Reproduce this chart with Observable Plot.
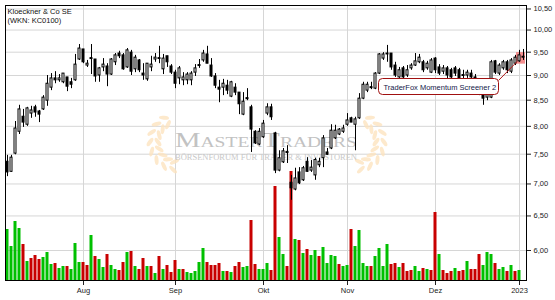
<!DOCTYPE html>
<html><head><meta charset="utf-8">
<script src="https://cdn.jsdelivr.net/npm/d3@7"></script>
<script src="https://cdn.jsdelivr.net/npm/@observablehq/plot@0.6"></script>
<style>
html,body{margin:0;padding:0;background:#fff;}
#chart{position:relative;width:555px;height:300px;overflow:hidden;background:#fff;}
#chart svg{position:absolute;left:0;top:0;}
</style></head><body><div id="chart"></div>
<script>
const title = "Kloeckner & Co SE";
const subtitle = "(WKN: KC0100)";
const firstDay = "2022-07-05", lastDay = "2023-01-03";
const holidays = ["2022-12-26"];
const monthNames = ["Jan","Feb","Mär","Apr","Mai","Jun","Jul","Aug","Sep","Okt","Nov","Dez"];
const priceTicks = [6, 6.5, 7, 7.5, 8, 8.5, 9, 9.5, 10, 10.5];
const priceDomain = [5.597, 10.585];
const volumeDomain = [0, 5500];
const annotationLabel = "TraderFox Momentum Screener 2";
const watermarkSub = "BÖRSENFORUM FÜR TRADER & INVESTOREN";

const open = [7.37,7.20,7.51,7.90,8.18,8.03,8.24,8.36,8.28,8.32,8.49,8.75,8.94,8.90,8.86,8.96,8.86,8.90,9.34,9.56,
9.21,9.37,9.34,9.00,9.17,9.19,9.02,9.28,9.47,9.43,9.17,9.49,9.13,9.32,9.04,8.92,9.17,9.34,9.37,9.13,
9.41,9.19,9.06,8.94,8.90,8.90,8.90,9.06,9.22,9.32,9.45,9.21,8.98,8.75,8.75,8.79,8.57,8.75,8.65,8.22,
8.54,8.36,7.90,7.67,7.80,8.24,8.36,7.87,7.22,7.36,7.54,7.02,6.91,7.19,7.06,7.37,7.22,7.14,7.31,7.43,
7.53,7.60,7.78,7.85,7.90,8.03,8.15,8.03,8.15,8.53,8.69,8.76,8.73,9.04,9.36,9.47,9.47,9.21,8.96,9.15,
9.00,9.15,9.21,9.28,9.28,9.15,9.06,9.36,9.17,9.08,9.15,9.11,9.15,9.11,9.01,9.00,9.04,8.96,8.83,8.69,
8.55,8.55,9.30,9.04,9.15,9.28,9.08,9.25,9.30,9.40];
const high = [7.48,7.48,8.09,8.40,8.32,8.36,8.38,8.40,8.30,8.59,9.00,9.04,9.08,9.02,9.04,8.96,8.94,9.45,9.67,9.56,
9.32,9.67,9.34,9.17,9.36,9.25,9.36,9.47,9.52,9.47,9.58,9.54,9.43,9.34,9.25,9.25,9.41,9.47,9.63,9.45,
9.41,9.23,9.11,9.19,9.06,9.06,9.08,9.23,9.34,9.54,9.63,9.36,9.04,8.90,8.92,8.90,8.88,8.83,8.65,8.65,
8.73,8.40,7.92,7.96,8.11,8.43,8.42,7.89,7.56,7.60,7.65,7.14,7.26,7.27,7.29,7.44,7.39,7.43,7.43,7.83,
7.60,8.03,8.02,7.96,8.02,8.24,8.17,8.17,8.63,8.86,8.86,8.86,9.06,9.47,9.49,9.65,9.47,9.28,9.17,9.19,
9.21,9.25,9.47,9.45,9.32,9.30,9.36,9.38,9.23,9.21,9.19,9.15,9.19,9.15,9.11,9.11,9.11,9.02,8.90,8.73,
8.69,9.32,9.32,9.25,9.32,9.32,9.36,9.43,9.54,9.56];
const low = [7.12,7.19,7.49,7.85,7.98,8.00,8.15,8.17,8.07,8.30,8.38,8.69,8.83,8.86,8.83,8.67,8.73,8.88,9.32,9.25,
9.17,9.02,8.86,8.86,9.08,8.77,9.00,9.21,9.36,9.11,9.15,9.00,9.06,9.06,8.90,8.88,9.08,9.28,9.25,9.02,
9.17,9.02,8.73,8.81,8.79,8.81,8.79,8.98,9.15,9.28,9.25,8.96,8.73,8.45,8.59,8.61,8.55,8.59,8.22,8.20,
8.49,7.53,7.67,7.65,7.78,8.20,8.11,7.17,7.20,7.34,7.34,6.74,6.89,6.99,7.04,7.19,7.19,7.06,7.27,7.27,
7.48,7.58,7.76,7.83,7.87,8.00,8.07,7.56,8.13,8.51,8.65,8.71,8.71,9.02,9.32,9.28,9.11,8.96,8.94,8.92,
8.96,9.11,9.19,9.25,9.06,9.11,9.04,9.04,9.00,9.02,8.90,8.90,8.98,8.83,8.83,8.94,8.90,8.77,8.59,8.40,
8.49,8.53,9.02,9.00,9.11,9.04,9.04,9.21,9.28,9.32];
const close = [7.19,7.44,7.96,8.32,8.07,8.34,8.30,8.26,8.22,8.55,8.83,8.94,8.90,8.94,9.04,8.77,8.81,9.23,9.58,9.28,
9.25,9.35,8.98,9.15,9.23,9.02,9.34,9.43,9.41,9.13,9.54,9.08,9.38,9.11,9.00,9.25,9.23,9.38,9.35,9.36,
9.28,9.06,8.83,9.15,8.96,9.02,9.04,9.15,9.20,9.47,9.25,8.98,8.79,8.71,8.83,8.69,8.86,8.65,8.42,8.47,
8.52,7.94,7.69,7.90,8.05,8.36,8.17,7.22,7.43,7.55,7.52,6.93,7.09,7.01,7.26,7.20,7.27,7.40,7.37,7.78,
7.49,7.92,7.92,7.94,7.96,8.11,8.07,8.13,8.53,8.81,8.81,8.74,9.04,9.45,9.45,9.45,9.17,9.00,9.11,8.96,
9.11,9.21,9.30,9.38,9.11,9.25,9.32,9.11,9.04,9.15,9.00,8.96,9.04,8.90,8.99,9.06,8.96,8.83,8.65,8.53,
8.65,9.28,9.06,9.21,9.28,9.11,9.32,9.38,9.43,9.38];
// volume in thousand shares
const volume = [1020,680,1180,1040,720,380,440,500,420,460,560,320,340,240,280,280,220,740,360,360,
300,900,480,420,260,520,300,220,200,360,560,580,280,220,440,280,280,140,480,220,
300,160,400,220,220,160,140,180,360,640,360,300,300,340,180,180,160,280,360,260,
280,1200,320,220,220,340,200,1880,860,520,280,2180,820,800,540,620,500,600,480,660,
340,500,480,320,280,300,1020,680,1000,340,280,280,480,640,280,720,320,340,260,340,
180,200,280,180,240,220,200,1360,520,200,140,180,240,180,200,380,220,220,520,300,
560,520,340,220,260,180,300,180,200,null];
// volume bar colour: g = up day, r = down day
const volumeDir = ["g","g","g","g","r","g","r","r","r","g","g","g","r","g","g","r","g","g","g","r",
"r","g","r","g","g","r","g","g","r","r","g","r","g","r","r","g","r","g","r","g",
"r","r","r","g","r","g","g","g","g","g","r","r","r","r","g","r","g","r","r","g",
"g","r","r","g","g","g","r","r","g","g","r","r","g","r","g","r","g","g","r","g",
"g","g","g","r","g","g","r","g","g","g","g","r","g","g","g","g","r","r","g","r",
"r","r","g","g","r","g","r","r","g","r","r","r","g","r","r","g","r","r","r","g",
"g","g","r","g","g","r","g","r","g",null];

const parse = d3.utcParse("%Y-%m-%d"), iso = d3.utcFormat("%Y-%m-%d");
const days = d3.utcDays(parse(firstDay), d3.utcDay.offset(parse(lastDay), 1))
  .filter(d => d.getUTCDay() !== 0 && d.getUTCDay() !== 6 && !holidays.includes(iso(d)));
const data = days.map((date, i) => ({i, date, o: open[i], h: high[i], l: low[i], c: close[i], v: volume[i], dir: volumeDir[i]}));
const monthStarts = data.filter((d, i) => i > 0 && d.date.getUTCMonth() !== data[i - 1].date.getUTCMonth()).map(d => d.i);
const monthLabel = i => { const d = days[i]; return d.getUTCMonth() === 0 ? String(d.getUTCFullYear()) : monthNames[d.getUTCMonth()]; };
const lastIdx = data.length - 1;
const signal = {x1: lastIdx - 1.75, x2: lastIdx + 0.5, y1: 9.24, y2: 9.49};

const W = 555, H = 300;
const margins = {marginLeft: 5, marginRight: 29, marginTop: 5, marginBottom: 20};
const xBase = {type: "linear", domain: [-0.5, data.length - 0.25]};
const font = "'Liberation Sans', Arial, sans-serif";
const root = document.getElementById("chart");

// base layer: grid + axes
const basePlot = Plot.plot({
  width: W, height: H, ...margins,
  style: {background: "white", fontFamily: font, fontSize: "7.5px", color: "#222", overflow: "visible"},
  x: {...xBase, ticks: monthStarts, tickFormat: monthLabel, tickSize: 5, tickPadding: 2, label: null},
  y: {type: "log", domain: priceDomain, ticks: priceTicks, tickFormat: v => v.toFixed(2).replace(".", ","), axis: "right", tickSize: 4, tickPadding: 3, label: null},
  marks: [
    Plot.ruleY(priceTicks, {stroke: "#d6d6d6"}),
    Plot.ruleX(monthStarts, {stroke: "#d6d6d6"})
  ]
});
root.appendChild(basePlot);

// volume layer
const volPlot = Plot.plot({
  width: W, height: H, ...margins,
  style: {background: "transparent"},
  x: {...xBase, axis: null},
  y: {domain: volumeDomain, axis: null},
  marks: [
    Plot.rect(data.filter(d => d.v != null), {x1: d => d.i - 0.375, x2: d => d.i + 0.375, y1: 0, y2: "v",
      fill: d => d.dir === "g" ? "#00c000" : "#c80000"})
  ]
});
root.appendChild(volPlot);

// watermark layer (decoration)
const wm = d3.create("svg").attr("width", W).attr("height", H);
function branch(cx, cy, r, dir) {
  const g = wm.append("g").attr("fill", "#fde4c0").attr("opacity", 0.8);
  for (let k = 0; k < 8; k++) {
    const a = (100 + k * 20) * Math.PI / 180;
    const px = cx + dir * r * Math.cos(a), py = cy + r * Math.sin(a);
    const rot = (Math.atan2(-Math.cos(a), dir * Math.sin(a)) * 180 / Math.PI);
    for (const s of [-1, 1]) {
      const ox = px + dir * s * 4 * Math.cos(a), oy = py + s * 4 * Math.sin(a);
      g.append("ellipse").attr("cx", ox).attr("cy", oy).attr("rx", 5).attr("ry", 2)
        .attr("transform", `rotate(${rot + s * dir * 35} ${ox} ${oy})`);
    }
  }
}
branch(178, 142, 24, 1);
branch(356, 142, 24, -1);
const t1 = wm.append("text").attr("x", 175).attr("y", 147).attr("fill", "#c2c2c2")
  .attr("font-family", "'Liberation Serif', 'DejaVu Serif', serif").attr("textLength", 182).attr("lengthAdjust", "spacingAndGlyphs");
t1.append("tspan").attr("font-size", 22).text("M");
t1.append("tspan").attr("font-size", 15).text("ASTER");
t1.append("tspan").attr("font-size", 22).text("T");
t1.append("tspan").attr("font-size", 15).text("RADERS");
wm.append("text").attr("x", 175).attr("y", 160).attr("fill", "#c8c8c8")
  .attr("font-family", "'Liberation Serif', 'DejaVu Serif', serif").attr("font-size", 9)
  .attr("textLength", 182).attr("lengthAdjust", "spacingAndGlyphs").text(watermarkSub);
root.appendChild(wm.node());

// candle layer
const candlePlot = Plot.plot({
  width: W, height: H, ...margins,
  style: {background: "transparent", fontFamily: font, fontSize: "7.5px", overflow: "visible"},
  x: {...xBase, axis: null},
  y: {type: "log", domain: priceDomain, axis: null},
  marks: [
    Plot.rect([signal], {x1: "x1", x2: "x2", y1: "y1", y2: "y2", fill: "#f06a6a", fillOpacity: 0.75}),
    Plot.ruleX(data, {x: "i", y1: "l", y2: "h", stroke: "black"}),
    Plot.rect(data, {x1: d => d.i - 0.25, x2: d => d.i + 0.25, y1: "o", y2: "c",
      fill: d => d.c >= d.o ? "white" : "black", stroke: "black"}),
    Plot.text([title + "\n" + subtitle], {text: d => d, frameAnchor: "top-left", dx: 2, dy: 3, textAnchor: "start", lineAnchor: "top", lineHeight: 1.1, fill: "#111"}),
    Plot.frame({stroke: "black"})
  ]
});
root.appendChild(candlePlot);

// annotation box attached to the signal highlight
const sx = candlePlot.scale("x"), sy = candlePlot.scale("y");
const hx = sx.apply(signal.x1), hy = sy.apply(signal.y1);
const bw = 120, bh = 16, bx = Math.round(hx - 18 - bw) + 0.5, by = Math.round(hy + 14) + 0.5;
const ann = d3.select(candlePlot).append("g");
ann.append("line").attr("x1", bx + bw).attr("y1", by + 2).attr("x2", hx + 1).attr("y2", hy - 2)
  .attr("stroke", "#b01818").attr("stroke-width", 1);
ann.append("rect").attr("x", bx).attr("y", by).attr("width", bw).attr("height", bh).attr("rx", 4)
  .attr("fill", "white").attr("stroke", "#a01010").attr("stroke-width", 1);
ann.append("text").attr("x", bx + 5).attr("y", by + 11).attr("fill", "#14204a")
  .attr("text-anchor", "start").attr("font-family", font).attr("font-size", 7.5).text(annotationLabel);
</script></body></html>
